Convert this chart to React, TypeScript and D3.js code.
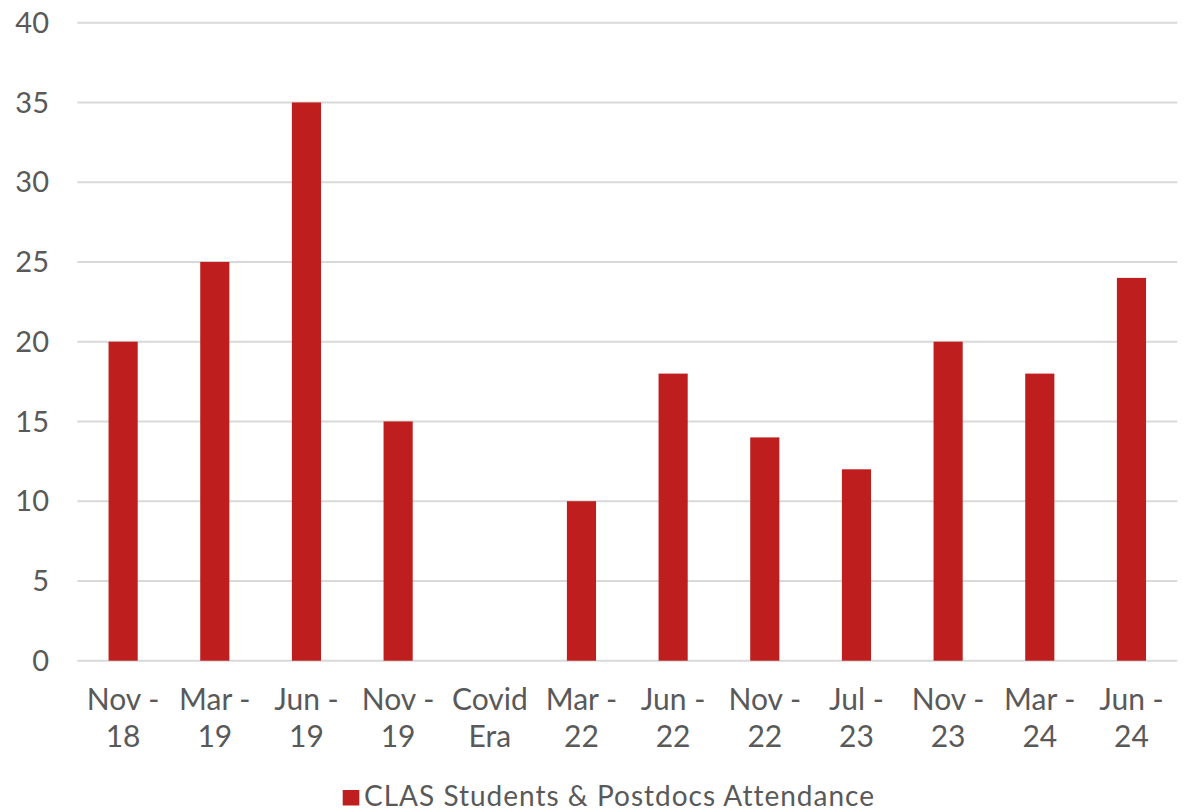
import React, { useRef, useEffect } from 'react';
import * as d3 from 'd3';

const categories = ['Nov - 18', 'Mar - 19', 'Jun - 19', 'Nov - 19', 'Covid Era', 'Mar - 22', 'Jun - 22', 'Nov - 22', 'Jul - 23', 'Nov - 23', 'Mar - 24', 'Jun - 24'];
const labelLines = [['Nov -', '18'], ['Mar -', '19'], ['Jun -', '19'], ['Nov -', '19'], ['Covid', 'Era'], ['Mar -', '22'], ['Jun -', '22'], ['Nov -', '22'], ['Jul -', '23'], ['Nov -', '23'], ['Mar -', '24'], ['Jun -', '24']];
const attendance: (number | null)[] = [20, 25, 35, 15, null, 10, 18, 14, 12, 20, 18, 24];
const yTicks = [0, 5, 10, 15, 20, 25, 30, 35, 40];
const seriesName = 'CLAS Students & Postdocs Attendance';

const App = () => {
  const svgRef = useRef<SVGSVGElement>(null);
  const width = 1188;
  const height = 812;

  useEffect(() => {
    const svg = d3.select(svgRef.current);
    svg.selectAll('*').remove();

    const font = 'Lato, "Open Sans", sans-serif';
    const textColor = '#595959';
    const barColor = '#BE1E1E';

    const left = 77.3, right = 1177.3, top = 22.7, bottom = 660.7;

    const x = d3.scaleBand().domain(categories).range([left, right]).padding(0);
    const y = d3.scaleLinear().domain([0, 40]).range([bottom, top]);
    const barW = x.bandwidth() * 0.318;

    // gridlines
    svg.append('g')
      .selectAll('line')
      .data(yTicks)
      .enter()
      .append('line')
      .attr('x1', left)
      .attr('x2', right)
      .attr('y1', d => y(d))
      .attr('y2', d => y(d))
      .attr('stroke', '#D9D9D9')
      .attr('stroke-width', 2);

    // y labels
    svg.append('g')
      .selectAll('text')
      .data(yTicks)
      .enter()
      .append('text')
      .attr('x', 49)
      .attr('y', d => y(d))
      .attr('dy', '0.35em')
      .attr('text-anchor', 'end')
      .attr('font-family', font)
      .attr('font-size', 29)
      .attr('fill', textColor)
      .text(d => d);

    // bars
    const data = categories.map((c, i) => ({ c, v: attendance[i] })).filter(d => d.v !== null);
    svg.append('g')
      .selectAll('rect')
      .data(data)
      .enter()
      .append('rect')
      .attr('x', d => (x(d.c) as number) + x.bandwidth() / 2 - barW / 2)
      .attr('y', d => y(d.v as number))
      .attr('width', barW)
      .attr('height', d => bottom - y(d.v as number))
      .attr('fill', barColor);

    // x labels
    const xl = svg.append('g')
      .selectAll('text')
      .data(categories)
      .enter()
      .append('text')
      .attr('text-anchor', 'middle')
      .attr('font-family', font)
      .attr('font-size', 30)
      .attr('fill', textColor);
    xl.append('tspan')
      .attr('x', d => (x(d) as number) + x.bandwidth() / 2)
      .attr('y', 710)
      .text((d, i) => labelLines[i][0]);
    xl.append('tspan')
      .attr('x', d => (x(d) as number) + x.bandwidth() / 2)
      .attr('y', 746.7)
      .text((d, i) => labelLines[i][1]);

    // legend
    const legend = svg.append('g');
    legend.append('rect')
      .attr('x', 342.7)
      .attr('y', 790)
      .attr('width', 16.6)
      .attr('height', 15.5)
      .attr('fill', barColor);
    legend.append('text')
      .attr('x', 364)
      .attr('y', 805.7)
      .attr('font-family', font)
      .attr('font-size', 28)
      .attr('letter-spacing', 1)
      .attr('fill', textColor)
      .text(seriesName);
  }, []);

  return (
    <svg
      ref={svgRef}
      width={width}
      height={height}
      style={{ position: 'absolute', left: 0, top: 0, background: '#fff' }}
    />
  );
};

export default App;
